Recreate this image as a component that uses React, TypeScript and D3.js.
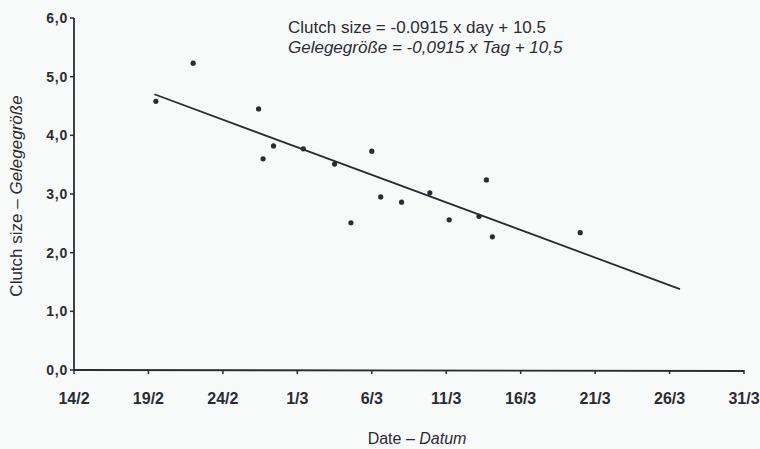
import * as d3 from "d3";

// days counted from 14 Feb
const tickDays = [0, 5, 10, 15, 20, 25, 30, 35, 40, 45];
const tickLabels = ["14/2", "19/2", "24/2", "1/3", "6/3", "11/3", "16/3", "21/3", "26/3", "31/3"];
const yTicks = [0, 1, 2, 3, 4, 5, 6];

const layDays = [5.5, 8.0, 12.4, 12.7, 13.4, 15.4, 17.5, 18.6, 20.0, 20.6, 22.0, 23.9, 25.2, 27.2, 27.7, 28.1, 34.0];
const clutchSizes = [4.58, 5.23, 4.45, 3.6, 3.82, 3.77, 3.51, 2.51, 3.73, 2.95, 2.86, 3.02, 2.56, 2.62, 3.24, 2.27, 2.34];

const fitDays = [5.4, 40.7];
const fitValues = [4.7, 1.38];

const W = 760;
const H = 449;
const INK = "#2b2b31";
const FONT = "'Liberation Sans', Arial, sans-serif";

export default function App() {
  const x = d3.scaleLinear().domain([0, 45]).range([74, 744]);
  const y = d3.scaleLinear().domain([0, 6]).range([370, 18]);

  const fit = d3
    .line<number>()
    .x((d) => x(d))
    .y((_, i) => y(fitValues[i]))(fitDays);

  return (
    <svg
      width={W}
      height={H}
      style={{ position: "absolute", left: 0, top: 0, background: "#f8f9f9" }}
      fontFamily={FONT}
    >
      {/* axes */}
      <line x1={x(0)} x2={x(0)} y1={y(6)} y2={y(0)} stroke={INK} strokeWidth={1.8} />
      <line x1={x(0)} x2={x(45)} y1={y(0)} y2={y(0) + 1} stroke={INK} strokeWidth={1.8} />

      {yTicks.map((t) => (
        <g key={t}>
          <line x1={x(0) - 4} x2={x(0)} y1={y(t)} y2={y(t)} stroke={INK} strokeWidth={1.5} />
          <text
            x={x(0) - 6}
            y={y(t) + 5}
            textAnchor="end"
            fontSize={14}
            fontWeight="bold"
            letterSpacing={0.8}
            fill={INK}
          >
            {t.toFixed(1).replace(".", ",")}
          </text>
        </g>
      ))}

      {tickDays.map((d, i) => (
        <g key={d}>
          <line x1={x(d)} x2={x(d)} y1={y(0)} y2={y(0) + 4} stroke={INK} strokeWidth={1.5} />
          <text x={x(d)} y={404} textAnchor="middle" fontSize={16} fontWeight="bold" fill={INK}>
            {tickLabels[i]}
          </text>
        </g>
      ))}

      {/* regression */}
      <path d={fit ?? ""} fill="none" stroke={INK} strokeWidth={1.8} />

      {layDays.map((d, i) => (
        <circle key={i} cx={x(d)} cy={y(clutchSizes[i])} r={2.6} fill={INK} />
      ))}

      {/* equation */}
      <text x={288} y={33} fontSize={17} fill={INK}>
        Clutch size = -0.0915 x day + 10.5
      </text>
      <text x={288} y={53} fontSize={17} fontStyle="italic" fill={INK}>
        Gelegegröße = -0,0915 x Tag + 10,5
      </text>

      {/* axis titles */}
      <text x={417} y={444} textAnchor="middle" fontSize={16} fill={INK}>
        Date – <tspan fontStyle="italic">Datum</tspan>
      </text>
      <text
        transform="translate(22,196) rotate(-90)"
        textAnchor="middle"
        fontSize={17}
        fill={INK}
      >
        Clutch size – <tspan fontStyle="italic">Gelegegröße</tspan>
      </text>
    </svg>
  );
}
